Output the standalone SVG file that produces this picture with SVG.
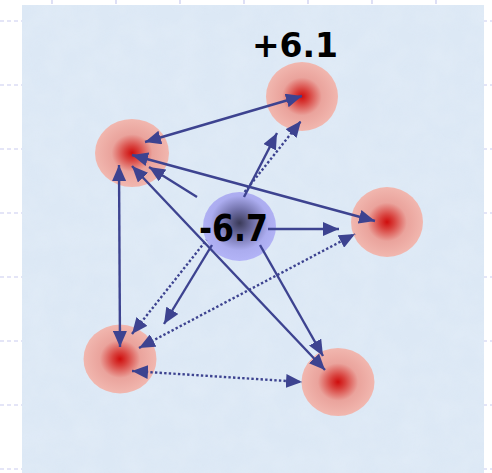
<svg xmlns="http://www.w3.org/2000/svg" width="492" height="473" viewBox="0 0 492 473">
<defs>
<style>
.grid{stroke:#c9cbef;stroke-width:1.2;stroke-dasharray:4 3;fill:none}
.c{stroke:#3d4390;stroke-width:2.4;fill:none;marker-end:url(#ah)}
.d{marker-start:url(#ah)}
.dot{stroke-dasharray:2.4 2.2}
.red{fill:url(#rg)}
.lbl{font-family:"DejaVu Sans",Verdana,sans-serif;font-weight:bold;fill:#000}
</style>
<marker id="ah" markerUnits="userSpaceOnUse" markerWidth="16" markerHeight="14" refX="16" refY="7" orient="auto-start-reverse">
<path d="M0,0 L16,7 L0,14 z" fill="#3d4390"/>
</marker>
<radialGradient id="rg" cx="0.5" cy="0.5" r="0.5">
<stop offset="0" stop-color="#cf0d0d"/>
<stop offset="0.2" stop-color="#d8403c"/>
<stop offset="0.55" stop-color="#eaa39c"/>
<stop offset="1" stop-color="#f1b7af"/>
</radialGradient>
<radialGradient id="bg" cx="0.5" cy="0.45" r="0.55">
<stop offset="0" stop-color="#3a3a58"/>
<stop offset="0.35" stop-color="#7070a8"/>
<stop offset="0.72" stop-color="#abacef"/>
<stop offset="1" stop-color="#b3b4f7"/>
</radialGradient>
<filter id="tex" x="0" y="0" width="100%" height="100%">
<feTurbulence type="fractalNoise" baseFrequency="0.04" numOctaves="3" seed="4" result="n"/>
<feColorMatrix in="n" type="matrix" values="0 0 0 0 0.76  0 0 0 0 0.84  0 0 0 0 0.93  0 0 0 1.4 -0.4" result="c"/>
<feComposite in="c" in2="SourceGraphic" operator="in"/>
</filter>
</defs>
<rect x="0" y="0" width="492" height="473" fill="#ffffff"/>
<g id="grid">
<path class="grid" d="M0,21H492M0,85H492M0,149H492M0,213H492M0,277H492M0,341H492M0,405H492M0,469H492"/>
<path class="grid" d="M52,0V6M116,0V6M180,0V6M244,0V6M308,0V6M372,0V6M436,0V6"/>
</g>
<g id="panel">
<rect x="22" y="5" width="462" height="468" fill="#dce8f5"/>
<rect x="22" y="5" width="462" height="468" fill="#dce8f5" filter="url(#tex)" opacity="0.8"/>
</g>
<g id="nodes">
<g id="n1"><ellipse class="red" cx="302" cy="96.5" rx="36" ry="34.5"/><text class="lbl" x="295" y="57" font-size="33" text-anchor="middle">+6.1</text></g>
<g id="n2"><ellipse class="red" cx="132" cy="153" rx="37" ry="34"/></g>
<g id="n3"><ellipse class="red" cx="387" cy="222" rx="36" ry="35"/></g>
<g id="n4"><ellipse class="red" cx="120" cy="359" rx="36.5" ry="34.5"/></g>
<g id="n5"><ellipse class="red" cx="338" cy="382" rx="36.5" ry="34"/></g>
<g id="n0"><ellipse fill="url(#bg)" cx="239.5" cy="226.5" rx="36.5" ry="34.5"/><text class="lbl" x="199" y="241" font-size="38" textLength="69" lengthAdjust="spacingAndGlyphs">-6.7</text></g>
</g>
<g id="connectors">
<path class="c" d="M197,197 L149,167"/>
<path class="c" d="M244,197 L277,133"/>
<path class="c" d="M212,245 L164,324"/>
<path class="c" d="M260,245 L323,356"/>
<path class="c" d="M268,229 L339,229"/>
<path class="c d" d="M145,142 L302,96"/>
<path class="c d" d="M132,155 L375,221"/>
<path class="c d" d="M132,166 L325,370"/>
<path class="c d" d="M119,165 L120,347"/>
<path class="c d dot" d="M132,334 L206.5,240 M244.6,192 L301,121"/>
<path class="c d dot" d="M139,348 L355,234"/>
<path class="c d dot" d="M132,371 L302,382"/>
</g>
</svg>
